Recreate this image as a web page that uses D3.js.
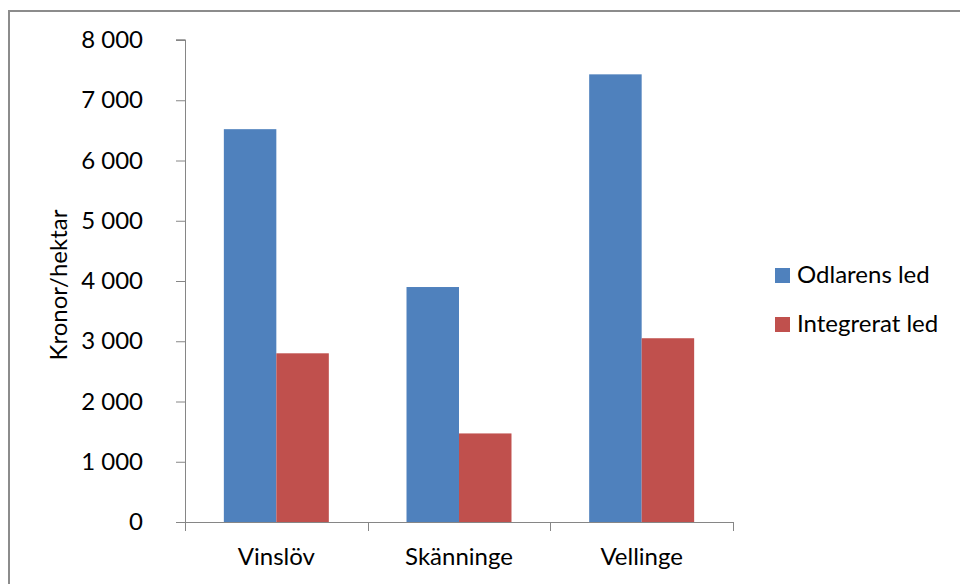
<!DOCTYPE html>
<html>
<head>
<meta charset="utf-8">
<script src="https://cdn.jsdelivr.net/npm/d3@7"></script>
<style>
  html, body { margin: 0; padding: 0; background: #fff; }
  svg { display: block; font-family: Lato, "Open Sans", sans-serif; }
</style>
</head>
<body>
<svg id="chart" width="960" height="584"></svg>
<script>
// Cost per hectare for three trial sites, two treatments
const sites = ["Vinslöv", "Skänninge", "Vellinge"];
const seriesNames = ["Odlarens led", "Integrerat led"];
const odlarensLed = [6520, 3900, 7430];
const integreratLed = [2800, 1470, 3050];
const yTicks = [0, 1000, 2000, 3000, 4000, 5000, 6000, 7000, 8000];
const yTitle = "Kronor/hektar";
const colors = ["#4F81BD", "#C0504D"];

const seriesValues = [odlarensLed, integreratLed];
const rows = sites.map((s, i) => ({ site: s, values: seriesValues.map((v, j) => ({ key: seriesNames[j], value: v[i] })) }));

const svg = d3.select("#chart");
const axisColor = "#868686";

// outer chart frame (only left and top edges fall inside the view)
svg.append("path")
  .attr("d", "M9,600 L9,11 L980,11")
  .attr("fill", "none")
  .attr("stroke", "#8c8c8c")
  .attr("stroke-width", 2);

const plotLeft = 185, plotRight = 733, plotTop = 40, plotBottom = 522;

const y = d3.scaleLinear().domain([0, 8000]).range([plotBottom, plotTop]);
const x = d3.scaleBand().domain(sites).range([plotLeft, plotRight]).paddingInner(0).paddingOuter(0);
const xs = d3.scaleBand().domain(seriesNames).range([0, x.bandwidth()]).paddingInner(0).paddingOuter(0.74);

// y axis
const yAxis = svg.append("g")
  .attr("transform", `translate(${plotLeft},0)`)
  .call(d3.axisLeft(y).tickValues(yTicks).tickSize(9).tickPadding(33).tickFormat(v => d3.format(",")(v).replace(/,/g, " ")));
yAxis.select(".domain").attr("stroke", axisColor).attr("d", `M0.5,${plotTop}H-9V${plotTop}H0.5V${plotBottom}`);
yAxis.selectAll(".tick line").attr("stroke", axisColor);
yAxis.selectAll(".tick text")
  .attr("fill", "#000")
  .style("font-size", "24px")
  .style("font-family", "Lato, sans-serif");

// bars
const groups = svg.append("g").selectAll("g").data(rows).join("g")
  .attr("transform", d => `translate(${x(d.site)},0)`);
groups.selectAll("rect").data(d => d.values).join("rect")
  .attr("x", d => xs(d.key))
  .attr("width", xs.bandwidth())
  .attr("y", d => y(d.value))
  .attr("height", d => y(0) - y(d.value))
  .attr("fill", (d, i) => colors[i]);

// x axis with category-boundary ticks
const xAxis = svg.append("g")
  .attr("transform", `translate(0,${plotBottom})`)
  .call(d3.axisBottom(x).tickSize(0).tickPadding(26));
xAxis.select(".domain").attr("stroke", axisColor).attr("d", `M${plotLeft},0.5H${plotRight}`);
xAxis.selectAll(".tick text")
  .attr("fill", "#000")
  .style("font-size", "24px")
  .style("font-family", "Lato, sans-serif");
const bounds = sites.map(s => x(s)).concat([x(sites[sites.length - 1]) + x.bandwidth()]);
xAxis.selectAll("line.bound").data(bounds).join("line")
  .attr("class", "bound")
  .attr("x1", d => Math.round(d) + 0.5).attr("x2", d => Math.round(d) + 0.5)
  .attr("y1", 0).attr("y2", 9)
  .attr("stroke", axisColor);

// y axis title
svg.append("text")
  .attr("transform", `translate(67,${(plotTop + plotBottom) / 2 + 4}) rotate(-90)`)
  .attr("text-anchor", "middle")
  .style("font-size", "24px")
  .attr("fill", "#000")
  .text(yTitle);

// legend
const legend = svg.append("g").selectAll("g").data(seriesNames).join("g")
  .attr("transform", (d, i) => `translate(775,${268 + i * 49})`);
legend.append("rect")
  .attr("width", 15).attr("height", 15)
  .attr("fill", (d, i) => colors[i]);
legend.append("text")
  .attr("x", 22).attr("y", 15)
  .style("font-size", "24px")
  .attr("fill", "#000")
  .text(d => d);
</script>
</body>
</html>
